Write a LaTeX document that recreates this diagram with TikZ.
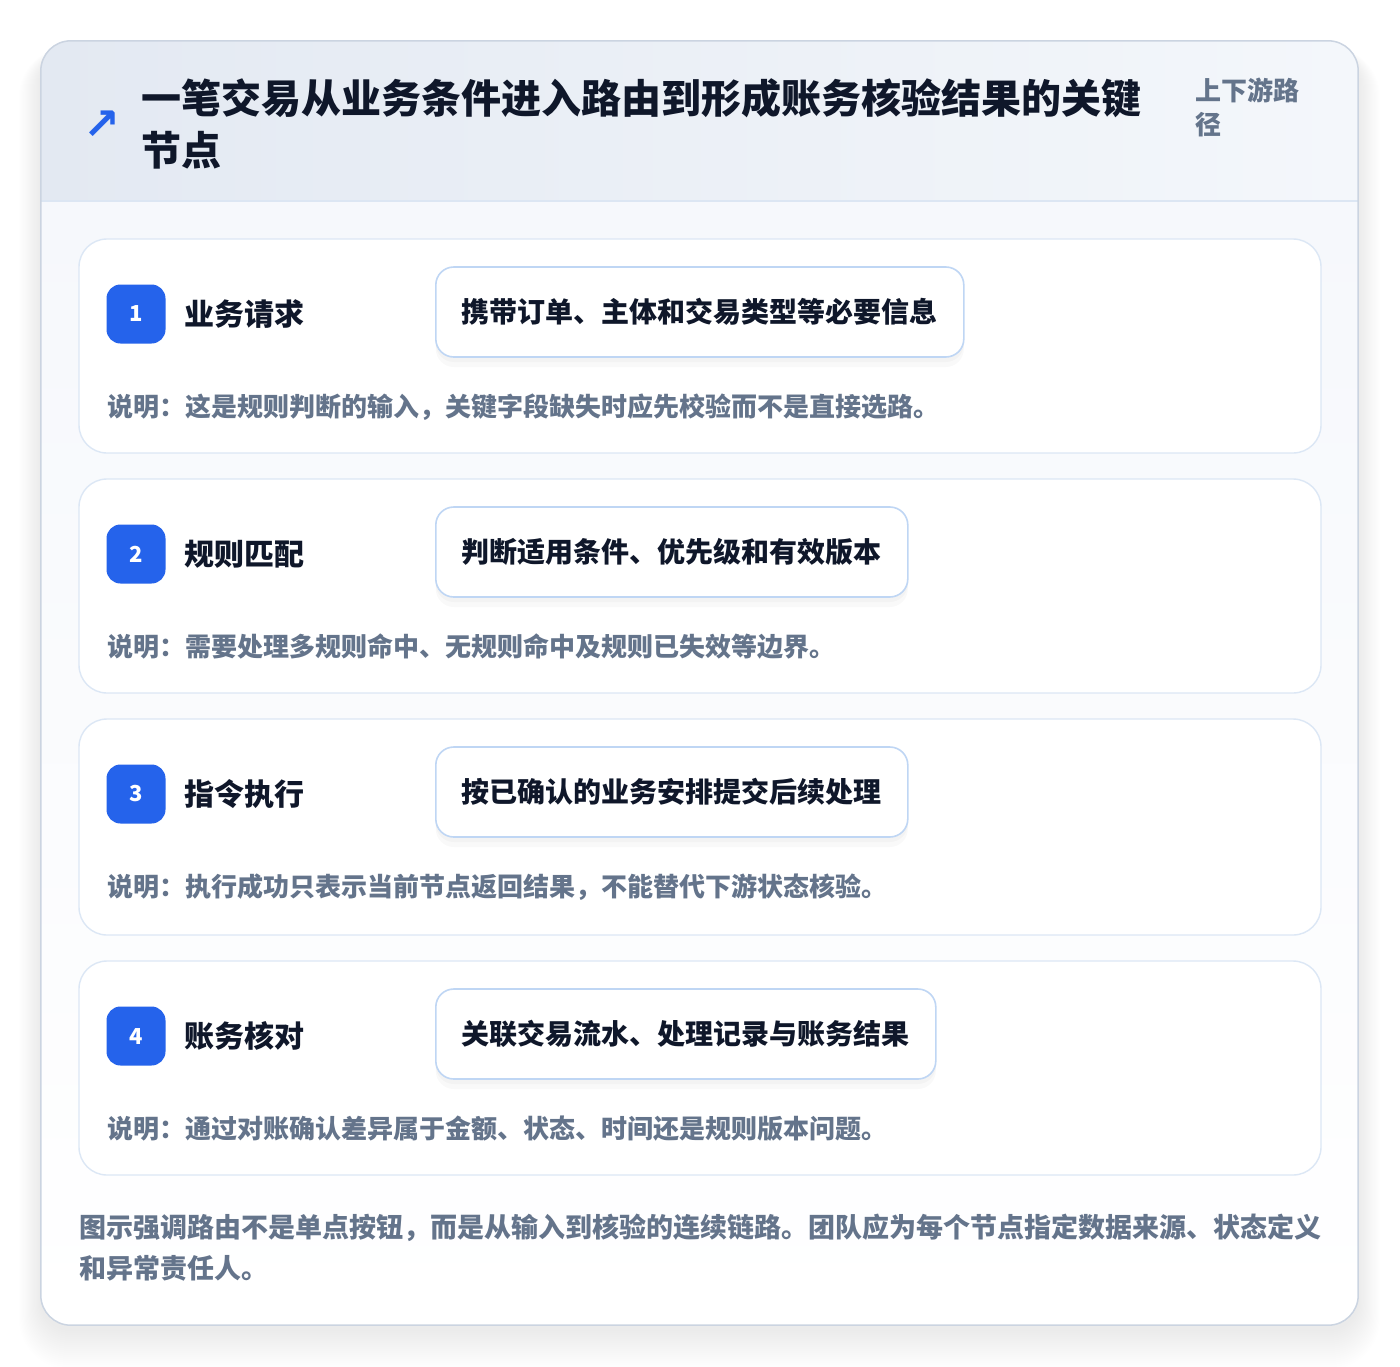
\documentclass[tikz,border=0pt]{standalone}
\usepackage{fontspec}
\setmainfont{Noto Sans CJK SC}
\newfontfamily\symbolfont{DejaVu Sans}
\usetikzlibrary{positioning}

\definecolor{inkdark}{HTML}{0F172A}
\definecolor{inkgray}{HTML}{64748B}
\definecolor{badgeblue}{HTML}{2563EB}
\definecolor{cardline}{HTML}{DCE7F5}
\definecolor{pillline}{HTML}{BFD6F4}
\definecolor{outerline}{HTML}{CBD4E1}
\definecolor{headline}{HTML}{DCE6F3}
\definecolor{headleft}{HTML}{E3E9F2}
\definecolor{headright}{HTML}{F4F7FB}
\definecolor{bodytop}{HTML}{F6F8FC}

\tikzset{
  outercard/.style={rounded corners=30pt, minimum width=1317pt, minimum height=1284pt, inner sep=0pt},
  stepcard/.style={draw=cardline, line width=1.4pt, fill=white, rounded corners=28pt,
    minimum width=1242pt, inner sep=0pt},
  badge/.style={fill=badgeblue, rounded corners=14pt, minimum size=59pt, inner sep=0pt,
    text=white, font=\bfseries\fontsize{22}{22}\selectfont},
  steplabel/.style={anchor=west, inner sep=0pt, text=inkdark, font=\bfseries\fontsize{30}{30}\selectfont},
  actbox/.style={anchor=west, draw=pillline, line width=1.6pt, fill=white, rounded corners=18pt,
    minimum height=90pt, inner xsep=26pt, inner ysep=0pt, text=inkdark,
    font=\bfseries\fontsize{28}{28}\selectfont,
    preaction={fill=black, opacity=0.025, transform canvas={yshift=-10pt}},
    preaction={fill=black, opacity=0.025, transform canvas={yshift=-5pt}}},
  notetext/.style={anchor=west, inner sep=0pt, text=inkgray, font=\bfseries\fontsize{26}{26}\selectfont},
}

\begin{document}
\begin{tikzpicture}[x=1pt,y=-1pt]
  \useasboundingbox (0,0) rectangle (1400,1366);

  % soft shadow round the card
  \foreach \s in {1,...,20}
    \fill[black, opacity=0.0045, rounded corners=30pt+\s pt]
      (41-\s*1.1, 41-\s*0.3+12) rectangle (1358+\s*1.1, 1325+\s*2+4);

  \node[outercard, fill=white] (frame) at (699.5,683) {};
  \begin{scope}
    \clip[rounded corners=30pt] (frame.north west) rectangle (frame.south east);
    \shade[top color=bodytop, bottom color=white] (41,201) rectangle (1358,1325);
    \shade[left color=headleft, right color=headright] (41,41) rectangle (1358,201);
  \end{scope}
  \draw[headline, line width=1.4pt] (41,201) -- (1358,201);
  \draw[outerline, line width=1.5pt, rounded corners=30pt] (frame.north west) rectangle (frame.south east);

  % header
  \node[inner sep=0pt, text=badgeblue, font=\symbolfont\bfseries\fontsize{44}{44}\selectfont] (icon) at (102,125) {↗};
  \node[anchor=west, inner sep=0pt, align=left, text=inkdark, font=\bfseries\fontsize{40}{52}\selectfont]
    (title) at (141,124) {一笔交易从业务条件进入路由到形成账务核验结果的关键\\节点};
  \node[anchor=west, inner sep=0pt, align=left, text=inkgray, font=\bfseries\fontsize{26}{34}\selectfont]
    (scope) at (1195,107) {上下游路\\径};

  % the four steps
  \foreach \n/\top/\h/\name/\act/\note in {
    1/239/214/业务请求/携带订单、主体和交易类型等必要信息/说明：这是规则判断的输入，关键字段缺失时应先校验而不是直接选路。,
    2/479/214/规则匹配/判断适用条件、优先级和有效版本/说明：需要处理多规则命中、无规则命中及规则已失效等边界。,
    3/719/216/指令执行/按已确认的业务安排提交后续处理/说明：执行成功只表示当前节点返回结果，不能替代下游状态核验。,
    4/961/214/账务核对/关联交易流水、处理记录与账务结果/说明：通过对账确认差异属于金额、状态、时间还是规则版本问题。}
  {
    \node[stepcard, minimum height=\h pt] (card\n) at (700,\top+\h/2) {};
    \node[badge] (badge\n) at (136,\top+75) {\n};
    \node[steplabel, right=19pt of badge\n] (label\n) {\name};
    \node[actbox] (act\n) at (435,\top+73) {\act};
    \node[notetext] (note\n) at (107,\top+168) {\note};
  }

  % closing remark
  \node[anchor=west, inner sep=0pt, align=left, text=inkgray, font=\bfseries\fontsize{27}{41}\selectfont]
    (remark) at (79,1247.5) {图示强调路由不是单点按钮，而是从输入到核验的连续链路。团队应为每个节点指定数据来源、状态定义\\和异常责任人。};
\end{tikzpicture}
\end{document}
